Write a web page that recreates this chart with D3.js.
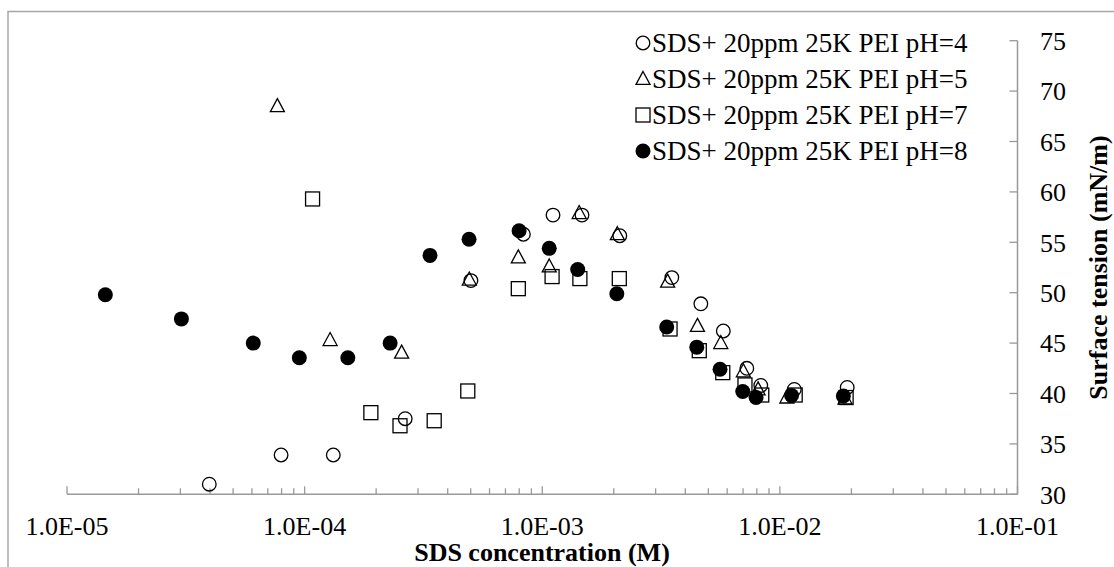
<!DOCTYPE html>
<html><head><meta charset="utf-8">
<script src="https://cdn.jsdelivr.net/npm/d3@7/dist/d3.min.js"></script>
<style>body{margin:0;background:#fff}svg{display:block}svg text{font-family:"Liberation Serif" !important}</style>
</head><body><svg id="c" width="1114" height="567" font-family="Liberation Serif"></svg>
<script>
const seriesNames = ["SDS+ 20ppm 25K PEI pH=4","SDS+ 20ppm 25K PEI pH=5","SDS+ 20ppm 25K PEI pH=7","SDS+ 20ppm 25K PEI pH=8"];
const ph4x = [3.97e-5,7.96e-5,1.32e-4,2.65e-4,5.01e-4,8.33e-4,1.11e-3,1.47e-3,2.12e-3,3.51e-3,4.65e-3,5.78e-3,7.26e-3,8.31e-3,1.15e-2,1.92e-2];
const ph4y = [31.0,33.9,33.9,37.5,51.2,55.8,57.7,57.7,55.65,51.5,48.9,46.2,42.5,40.8,40.4,40.6];
const ph5x = [7.68e-5,1.28e-4,2.56e-4,4.93e-4,7.93e-4,1.07e-3,1.43e-3,2.07e-3,3.37e-3,4.5e-3,5.64e-3,7.02e-3,8.1e-3,1.07e-2,1.88e-2];
const ph5y = [68.5,45.3,44.05,51.3,53.5,52.6,57.9,55.8,51.1,46.7,45.0,42.2,40.4,39.6,39.5];
const ph7x = [1.08e-4,1.9e-4,2.52e-4,3.51e-4,4.86e-4,7.93e-4,1.10e-3,1.44e-3,2.11e-3,3.45e-3,4.58e-3,5.75e-3,7.13e-3,8.39e-3,1.16e-2,1.9e-2];
const ph7y = [59.3,38.1,36.8,37.3,40.25,50.4,51.6,51.4,51.4,46.4,44.25,42.07,40.85,39.85,39.85,39.6];
const ph8x = [1.45e-5,3.03e-5,6.08e-5,9.5e-5,1.52e-4,2.29e-4,3.37e-4,4.92e-4,7.99e-4,1.07e-3,1.41e-3,2.06e-3,3.34e-3,4.47e-3,5.6e-3,6.98e-3,7.94e-3,1.12e-2,1.85e-2];
const ph8y = [49.8,47.4,45.0,43.55,43.55,45.0,53.7,55.3,56.15,54.4,52.3,49.9,46.6,44.6,42.4,40.2,39.6,39.8,39.75];
const xTickValues = [1e-5,1e-4,1e-3,1e-2,1e-1];
const xTickLabels = ["1.0E-05","1.0E-04","1.0E-03","1.0E-02","1.0E-01"];
const yTickValues = [30,35,40,45,50,55,60,65,70,75];
const markerTypes = ["circle","triangle","square","filled"];

const svg = d3.select("#c");
const axisColor = "#999";
function T(sel){ return sel.attr("font-family","Liberation Serif").style("font-family",'"Liberation Serif"'); }

svg.append("rect").attr("x",8).attr("y",11.5).attr("width",1120).attr("height",570)
  .attr("fill","none").attr("stroke","#a6a6a6").attr("stroke-width",1.5);

const x = d3.scaleLog().domain([1e-5,1e-1]).range([67,1017.5]);
const y = d3.scaleLinear().domain([30,75]).range([494.3,40.7]);

// X axis
svg.append("line").attr("x1",x(1e-5)).attr("x2",x(1e-1)).attr("y1",y(30)).attr("y2",y(30))
  .attr("stroke",axisColor).attr("stroke-width",1.5);
const minor = [];
for (let d=-5; d<-1; d++) for (let m=2;m<=9;m++) minor.push(m*Math.pow(10,d));
svg.selectAll("line.minor").data(minor).join("line").attr("class","minor")
  .attr("x1",d=>x(d)).attr("x2",d=>x(d)).attr("y1",y(30)).attr("y2",y(30)-6)
  .attr("stroke",axisColor).attr("stroke-width",1.3);
svg.selectAll("line.major").data(xTickValues).join("line").attr("class","major")
  .attr("x1",d=>x(d)).attr("x2",d=>x(d)).attr("y1",y(30)).attr("y2",y(30)-8)
  .attr("stroke",axisColor).attr("stroke-width",1.3);
xTickValues.forEach((v,i)=>{
  T(svg.append("text")).attr("x",x(v)).attr("y",535).attr("text-anchor","middle")
    .attr("font-size",26).attr("fill","#000").text(xTickLabels[i]);
});

// Y axis (right)
svg.append("line").attr("x1",x(1e-1)).attr("x2",x(1e-1)).attr("y1",y(30)).attr("y2",y(75))
  .attr("stroke",axisColor).attr("stroke-width",1.5);
svg.selectAll("line.yt").data(yTickValues).join("line").attr("class","yt")
  .attr("x1",x(1e-1)).attr("x2",x(1e-1)-8).attr("y1",d=>y(d)).attr("y2",d=>y(d))
  .attr("stroke",axisColor).attr("stroke-width",1.3);
yTickValues.forEach(v=>{
  T(svg.append("text")).attr("x",1040).attr("y",y(v)+9.3)
    .attr("font-size",26).attr("fill","#000").text(v);
});

// axis titles
T(svg.append("text")).attr("x",542).attr("y",561).attr("text-anchor","middle")
  .attr("font-size",26).attr("font-weight","bold").text("SDS concentration (M)");
T(svg.append("text")).attr("transform","translate(1106.5,267.5) rotate(-90)").attr("text-anchor","middle")
  .attr("font-size",26).attr("font-weight","bold").text("Surface tension (mN/m)");

function drawMarker(g, type, cx, cy) {
  if (type==="circle") {
    g.append("circle").attr("cx",cx).attr("cy",cy).attr("r",6.8).attr("fill","none")
      .attr("stroke","#000").attr("stroke-width",1.3);
  } else if (type==="filled") {
    g.append("circle").attr("cx",cx).attr("cy",cy).attr("r",7.5).attr("fill","#000");
  } else if (type==="square") {
    g.append("rect").attr("x",cx-7).attr("y",cy-7).attr("width",14).attr("height",14)
      .attr("fill","none").attr("stroke","#000").attr("stroke-width",1.3);
  } else {
    const h=13, w=14;
    g.append("path").attr("d",`M${cx},${cy-h*0.58}L${cx+w/2},${cy+h*0.42}L${cx-w/2},${cy+h*0.42}Z`)
      .attr("fill","none").attr("stroke","#000").attr("stroke-width",1.3);
  }
}

const series = [[ph4x,ph4y],[ph5x,ph5y],[ph7x,ph7y],[ph8x,ph8y]];
series.forEach((s,i)=>{
  s[0].forEach((xv,j)=>drawMarker(svg, markerTypes[i], x(xv), y(s[1][j])));
});

// legend
const legY = [43,79,115,151];
seriesNames.forEach((n,i)=>{
  drawMarker(svg, markerTypes[i], 643, legY[i]);
  T(svg.append("text")).attr("x",652).attr("y",legY[i]+9).attr("font-size",27)
    .attr("fill","#000").text(n);
});
</script></body></html>
